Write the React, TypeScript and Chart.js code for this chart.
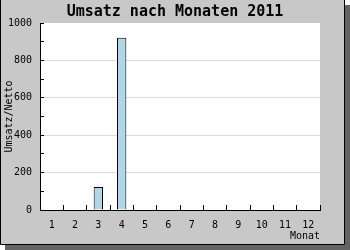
import React, { useEffect, useRef } from "react";
import { Chart, registerables } from "chart.js";

Chart.register(...registerables);

const months = ["1", "2", "3", "4", "5", "6", "7", "8", "9", "10", "11", "12"];
const revenue = [0, 0, 123, 921, 0, 0, 0, 0, 0, 0, 0, 0];
const yMin = 0;
const yMax = 1000;
const yStep = 100;
const yLabelStep = 200;
const chartTitle = "Umsatz nach Monaten 2011";
const yTitle = "Umsatz/Netto";
const xTitle = "Monat";

const FONT = "'DejaVu Sans Mono', monospace";

const framePlugin = {
  id: "frame",
  beforeDraw(chart: any) {
    const { ctx, width, height, chartArea } = chart;
    ctx.save();
    ctx.fillStyle = "#ffffff";
    ctx.fillRect(0, 0, width, height);
    // shadow
    ctx.fillStyle = "#646464";
    ctx.fillRect(5, 5, width - 5, height - 5);
    // main panel
    ctx.fillStyle = "#c8c8c8";
    ctx.fillRect(0, 0, 345, 245);
    ctx.strokeStyle = "#000000";
    ctx.lineWidth = 1;
    ctx.beginPath();
    ctx.moveTo(0.5, 0);
    ctx.lineTo(0.5, 244.5);
    ctx.lineTo(344.5, 244.5);
    ctx.lineTo(344.5, 0);
    ctx.stroke();
    // plot area
    ctx.fillStyle = "#ffffff";
    ctx.fillRect(chartArea.left, chartArea.top, chartArea.right - chartArea.left, chartArea.bottom - chartArea.top);
    ctx.restore();
  },
};

export default function App() {
  const ref = useRef<HTMLCanvasElement>(null);
  useEffect(() => {
    document.body.style.margin = "0";
    const chart = new Chart(ref.current as HTMLCanvasElement, {
      type: "bar",
      data: {
        labels: months,
        datasets: [
          {
            data: revenue,
            backgroundColor: "#add8e6",
            borderColor: "#000000",
            borderWidth: 1,
            categoryPercentage: 1,
            barPercentage: 0.4,
          },
        ],
      },
      options: {
        responsive: false,
        animation: false,
        layout: { padding: { left: 0, right: 0, top: 0, bottom: 0 } },
        plugins: {
          legend: { display: false },
          tooltip: { enabled: false },
          title: {
            display: true,
            text: chartTitle,
            color: "#000",
            font: { family: FONT, size: 15, weight: "bold", lineHeight: 1.2 },
            padding: { top: 3, bottom: 2 },
          },
        },
        scales: {
          x: {
            offset: true,
            grid: {
              display: true,
              drawOnChartArea: false,
              drawTicks: true,
              tickLength: -5,
              tickColor: "#000",
              offset: true,
            },
            border: { display: true, color: "#000", width: 1 },
            ticks: {
              color: "#000",
              font: { family: FONT, size: 10, lineHeight: 1.2 },
              padding: 14,
              maxRotation: 0,
              autoSkip: false,
            },
            title: {
              display: true,
              text: xTitle,
              align: "end",
              color: "#000",
              font: { family: FONT, size: 10, lineHeight: 1.2 },
              padding: { top: 0, bottom: 8 },
            },
            afterFit: (s: any) => {
              s.height = 40;
            },
          },
          y: {
            min: yMin,
            max: yMax,
            grid: {
              display: true,
              drawTicks: true,
              tickLength: -4,
              tickColor: "#000",
              color: (c: any) => {
                const v = c.tick ? c.tick.value : 0;
                if (v === yMax || v === yMin) return "rgba(0,0,0,0)";
                return v % yLabelStep === 0 ? "#dcdcdc" : "rgba(0,0,0,0)";
              },
            },
            border: { display: true, color: "#000", width: 1 },
            ticks: {
              stepSize: yStep,
              color: "#000",
              font: { family: FONT, size: 10, lineHeight: 1.2 },
              padding: 12,
              callback: (v: any) => (Number(v) % yLabelStep === 0 ? String(v) : ""),
            },
            title: {
              display: true,
              text: yTitle,
              color: "#000",
              font: { family: FONT, size: 10, lineHeight: 1.2 },
              padding: { top: 3, bottom: 0 },
            },
            afterFit: (s: any) => {
              s.width = 40;
            },
          },
          yRight: {
            position: "right",
            display: true,
            grid: { display: false, drawTicks: false },
            border: { display: false },
            ticks: { display: false },
            afterFit: (s: any) => {
              s.width = 30;
            },
          },
        },
      },
      plugins: [framePlugin],
    } as any);
    return () => chart.destroy();
  }, []);
  return (
    <div style={{ width: 350, height: 250 }}>
      <canvas ref={ref} width={350} height={250} style={{ display: "block" }} />
    </div>
  );
}
